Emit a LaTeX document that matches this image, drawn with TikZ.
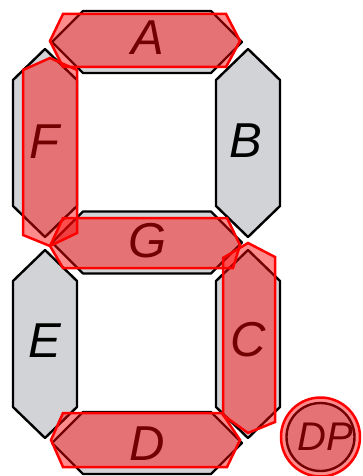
\documentclass[tikz,border=0pt]{standalone}
\usepackage{fontspec}
\setmainfont{Liberation Sans}
\definecolor{seggray}{RGB}{209,211,214}
\begin{document}
\begin{tikzpicture}[x=1pt, y=-1pt,
        seg/.style={draw=black, line width=2.4pt, fill=seggray, line join=round},
        lit/.style={draw=red, line width=2.5pt, fill=red, fill opacity=0.45},
        every node/.style={font=\fontsize{49}{49}\selectfont\itshape}]
    \useasboundingbox (0,0) rectangle (362,476);
    % unlit segments
    \foreach \cy in {42,242.5,443}
        \draw[seg] (52,\cy) -- ++(31,-31) -- ++(128,0) -- ++(31,31) -- ++(-31,31) -- ++(-128,0) -- cycle;
    \foreach \cx/\cy in {45/49, 248/49, 45/250, 248/250}
        \draw[seg] (\cx,\cy) -- ++(32,31) -- ++(0,126) -- ++(-32,31) -- ++(-32,-31) -- ++(0,-126) -- cycle;
    \draw[seg] (320.5,437) circle (34);
    \node (labA) at (148,38) {A};
    \node (labB) at (246,141) {B};
    \node (labC) at (248,340) {C};
    \node (labD) at (147,444) {D};
    \node (labE) at (45,341) {E};
    \node (labF) at (44,142) {F};
    \node (labG) at (148,241) {G};
    \node[font=\fontsize{40}{40}\selectfont\itshape] (labDP) at (325,437) {DP};
    % lit segments
    \draw[lit] (50,41) -- (63,14) -- (226,14) -- (240,41) -- (226,67) -- (63,67) -- cycle;
    \draw[lit] (50,58) -- (77,70) -- (77,233) -- (50,246) -- (23,235) -- (23,70) -- cycle;
    \draw[lit] (50,246) -- (63,218) -- (227,218) -- (240,245) -- (233,268) -- (63,268) -- cycle;
    \draw[lit] (248,243) -- (275,257) -- (275,422) -- (248,433) -- (223,415) -- (223,258) -- cycle;
    \draw[lit] (51,440) -- (63,413) -- (222,413) -- (240,440) -- (227,467) -- (63,467) -- cycle;
    \draw[lit] (320.5,437) circle (39.5);
\end{tikzpicture}
\end{document}
